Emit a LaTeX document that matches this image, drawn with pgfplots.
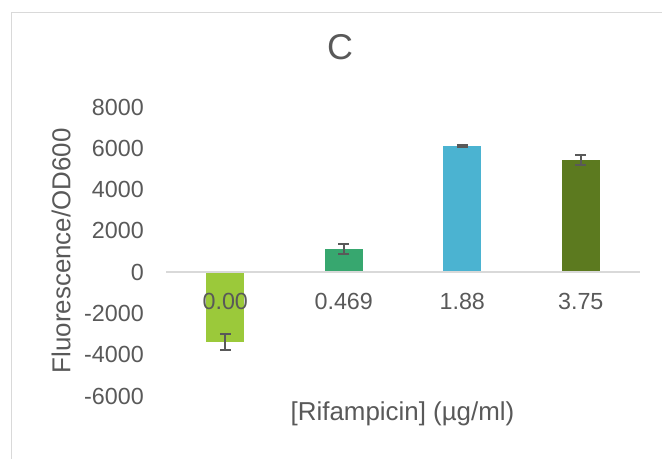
\documentclass[border=0pt]{standalone}
\usepackage{pgfplots}
\pgfplotsset{compat=1.18}
\usepackage{fontspec}
\setmainfont{Liberation Sans}
\definecolor{txt}{HTML}{595959}
\definecolor{frame}{HTML}{D9D9D9}
\definecolor{c1}{HTML}{9BC93A}
\definecolor{c2}{HTML}{37A76F}
\definecolor{c3}{HTML}{4BB3D1}
\definecolor{c4}{HTML}{5C7A1F}
\begin{document}
\begin{tikzpicture}
\path[use as bounding box] (0,0) rectangle (662bp,459bp);
\draw[frame, line width=1.5bp] (11.5bp,0) -- (11.5bp,446.5bp) -- (662bp,446.5bp);
\begin{axis}[
  at={(166bp,63bp)}, anchor=south west,
  scale only axis, width=474bp, height=289bp,
  xmin=-0.5, xmax=3.5, ymin=-6000, ymax=8000,
  axis on top,
  axis line style={draw=none},
  major tick length=0pt,
  xtick={0,1,2,3},
  xticklabels={0.00,0.469,1.88,3.75},
  ytick={-6000,-4000,...,8000},
  /pgf/number format/assume math mode=true,
  yticklabel={\pgfmathprintnumber[fixed,int detect,1000 sep={}]{\tick}},
  tick label style={font=\fontsize{23.4}{28}\selectfont, text=txt},
  yticklabel style={anchor=east, inner sep=0pt, xshift=-22bp},
  xticklabel style={anchor=center, inner sep=0pt, yshift=94.5bp},
  title={C},
  title style={at={(rel axis cs:0.367,1.185)}, anchor=center, font=\fontsize{36}{40}\selectfont, text=txt},
  xlabel={[Rifampicin] (µg/ml)},
  xlabel style={at={(rel axis cs:0.499,-0.062)}, anchor=center, font=\fontsize{26}{30}\selectfont, text=txt},
  ylabel={Fluorescence/OD600},
  ylabel style={at={(rel axis cs:-0.2215,0.502)}, anchor=center, font=\fontsize{26}{30}\selectfont, text=txt},
  ybar, bar width=38bp,
  clip=false,
  every axis plot/.append style={bar shift=0pt, draw=none,
    error bars/error bar style={txt, line width=2bp},
    error bars/error mark options={rotate=90, mark size=5.5bp, line width=2bp, txt}},
]
\addplot[fill=c1, error bars/.cd, y dir=both, y explicit] coordinates {(0,-3380) +- (0,390)};
\addplot[fill=c2, error bars/.cd, y dir=both, y explicit] coordinates {(1,1115) +- (0,240)};
\addplot[fill=c3, error bars/.cd, y dir=both, y explicit] coordinates {(2,6110) +- (0,30)};
\addplot[fill=c4, error bars/.cd, y dir=both, y explicit] coordinates {(3,5430) +- (0,260)};
\draw[frame, line width=1.5bp] (axis cs:-0.5,0) -- (axis cs:3.5,0);
\end{axis}
\end{tikzpicture}
\end{document}
